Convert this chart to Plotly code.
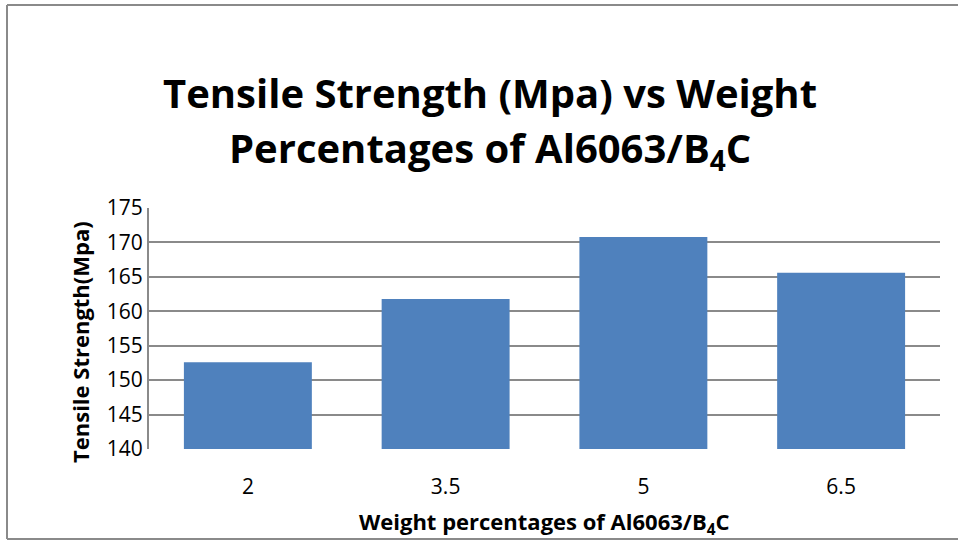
import plotly.graph_objects as go

categories = ["2", "3.5", "5", "6.5"]
tensile_strength = [152.6, 161.8, 170.8, 165.6]
y_ticks = [140, 145, 150, 155, 160, 165, 170, 175]

FONT = "Open Sans"
GRID = "#8a8a8a"

# plot area in pixels
L, R, T, B = 149, 940, 208, 449
W, H = 958, 541

def px(x):
    return (x - L) / (R - L)

def py(y):
    return (B - y) / (B - T)

fig = go.Figure(go.Bar(
    x=categories, y=tensile_strength,
    marker=dict(color="#4F81BD", line=dict(width=0)),
))

def ann(text, x, y, size, angle=0):
    return dict(text=text, x=px(x), y=py(y), xref="paper", yref="paper",
                xanchor="center", yanchor="middle", showarrow=False, textangle=angle,
                font=dict(size=size, family=FONT, color="black", weight="bold"))

fig.update_layout(
    width=W, height=H,
    margin=dict(l=L, r=W - R, t=T, b=H - B),
    paper_bgcolor="white", plot_bgcolor="white",
    bargap=0.353,
    showlegend=False,
    font=dict(family=FONT, color="black"),
    xaxis=dict(
        type="category",
        showgrid=False, showline=False, zeroline=False,
        ticks="outside", ticklen=19, tickcolor="rgba(0,0,0,0)",
        tickfont=dict(size=21, family=FONT, color="black"),
    ),
    yaxis=dict(
        range=[140, 175], tickvals=y_ticks,
        showgrid=True, gridcolor=GRID, gridwidth=2,
        showline=True, linecolor=GRID, linewidth=2,
        zeroline=False, ticks="",
        tickfont=dict(size=21, family=FONT, color="black"),
    ),
    annotations=[
        ann("Tensile Strength (Mpa) vs Weight", 490, 93, 40),
        ann("Percentages of Al6063/B<sub>4</sub>C", 490, 149, 40),
        ann("Weight percentages of Al6063/B<sub>4</sub>C", 544, 523, 22),
        ann("Tensile Strength(Mpa)", 80, 342, 22, -90),
    ],
    shapes=[
        dict(type="line", xref="paper", yref="paper", x0=px(7), x1=px(958), y0=py(5), y1=py(5),
             line=dict(color=GRID, width=2)),
        dict(type="line", xref="paper", yref="paper", x0=px(7), x1=px(7), y0=py(5), y1=py(539),
             line=dict(color=GRID, width=2)),
        dict(type="line", xref="paper", yref="paper", x0=px(7), x1=px(958), y0=py(539), y1=py(539),
             line=dict(color=GRID, width=2)),
    ],
)

fig.write_html("out.html", config={"displayModeBar": False},
               post_script="document.body.style.margin='0';")
